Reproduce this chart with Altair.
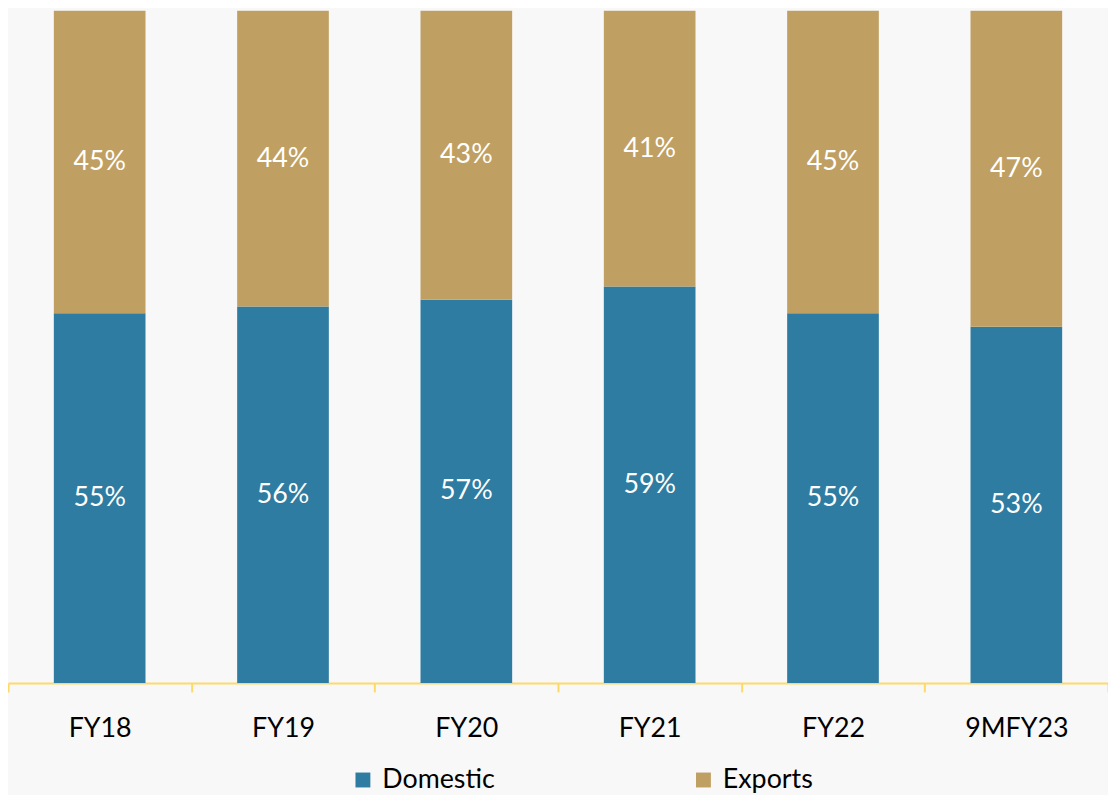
import altair as alt
import pandas as pd

categories = ["FY18", "FY19", "FY20", "FY21", "FY22", "9MFY23"]
domestic = [55, 56, 57, 59, 55, 53]
exports = [45, 44, 43, 41, 45, 47]
series = ["Domestic", "Exports"]
colors = ["#2E7CA1", "#C0A062"]

rows = []
for c, d, e in zip(categories, domestic, exports):
    rows.append({"cat": c, "series": "Domestic", "value": d, "ord": 0})
    rows.append({"cat": c, "series": "Exports", "value": e, "ord": 1})
df = pd.DataFrame(rows)

FONT = "Lato"

base = alt.Chart(df).transform_stack(
    stack="value", groupby=["cat"], as_=["v0", "v1"],
    sort=[alt.SortField("ord", order="ascending")]
).transform_calculate(
    mid="(datum.v0 + datum.v1) / 2",
    label="datum.value + '%'"
)

x = alt.X("cat:N", sort=categories, title=None,
          scale=alt.Scale(paddingInner=0, paddingOuter=0),
          axis=alt.Axis(labelAngle=0, labelFontSize=27, labelFont=FONT,
                        labelColor="#000000", labelPadding=24,
                        domainColor="#FFD966", domainWidth=2,
                        tickColor="#FFD966", tickWidth=2, tickSize=9,
                        tickBand="extent", grid=False))

bars = base.mark_bar(width=alt.RelativeBandSize(0.5)).encode(
    x=x,
    y=alt.Y("v0:Q", scale=alt.Scale(domain=[0, 100]), axis=None),
    y2="v1:Q",
    color=alt.Color("series:N", sort=series,
                    scale=alt.Scale(domain=series, range=colors),
                    legend=alt.Legend(title=None, orient="none",
                                      legendX=344, legendY=761,
                                      direction="horizontal",
                                      symbolType="square", symbolSize=225,
                                      symbolStrokeWidth=0,
                                      labelFontSize=27, labelFont=FONT,
                                      labelColor="#000000",
                                      columnPadding=196, labelOffset=6)),
)

labels = base.mark_text(color="white", fontSize=27, font=FONT).encode(
    x=alt.X("cat:N", sort=categories),
    y=alt.Y("mid:Q", scale=alt.Scale(domain=[0, 100])),
    text="label:N",
)

chart = alt.layer(bars, labels).properties(
    width=1108, height=677,
    autosize=alt.AutoSizeParams(type="none"),
    padding={"left": 0, "top": 0, "right": 0, "bottom": 110},
    background="#F8F8F8",
).configure_view(strokeWidth=0)

chart.save("out.html", embed_options={"renderer": "svg", "actions": False})
